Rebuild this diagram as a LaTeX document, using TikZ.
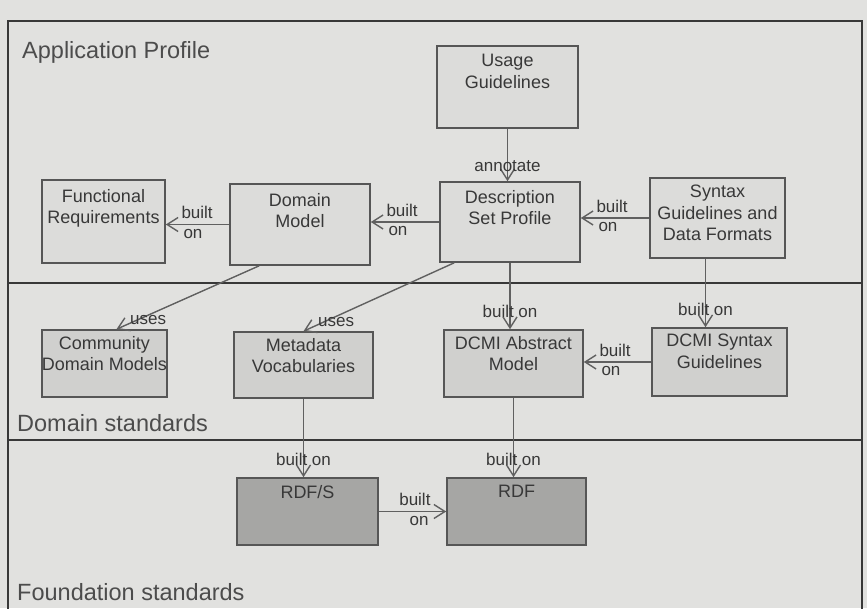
\documentclass[tikz,border=0pt]{standalone}
\usepackage{fontspec}
\setmainfont{Liberation Sans}
\usepackage{xcolor}
\usetikzlibrary{arrows.meta}

\definecolor{paper}{HTML}{E1E1DF}
\definecolor{boxtop}{HTML}{DCDCDA}
\definecolor{boxmid}{HTML}{D0D0CE}
\definecolor{boxlow}{HTML}{A6A6A4}
\definecolor{ink}{HTML}{383838}

\tikzset{
  stdbox/.style={draw=ink!85, line width=1.6pt, fill=boxtop, inner sep=0pt},
  midbox/.style={stdbox, fill=boxmid},
  lowbox/.style={stdbox, fill=boxlow},
  boxtext/.style={font=\fontsize{18}{21.5}\selectfont, text=ink, align=center, inner sep=0pt},
  conn/.style={draw=ink!80, line width=1.4pt, -{Straight Barb[length=11pt,width=14pt,line width=1.4pt]}},
  lbl/.style={font=\fontsize{17}{18}\selectfont, text=ink, inner sep=0pt},
  up/.style={lbl, at end, anchor=south west, xshift=15, yshift=5},
  dn/.style={lbl, at end, anchor=north west, xshift=17, yshift=-4},
  layer/.style={font=\fontsize{23.5}{26}\selectfont, text=ink!90, anchor=west, inner sep=0pt},
  sep/.style={draw=ink, line width=2.6pt}
}

\begin{document}
\begin{tikzpicture}[x=1pt,y=-1pt]
\useasboundingbox[fill=paper] (0,0) rectangle (867,608);

% layers
\draw[ink, line width=2.2pt] (8,640) -- (8,21) -- (862,21) -- (862,640);
\draw[sep] (8,283) -- (862,283);
\draw[sep] (8,440) -- (862,440);
\node[layer] (tapp) at (22,52) {Application Profile};
\node[layer] (tdom) at (17,423) {Domain standards};
\node[layer] (tfnd) at (17,592) {Foundation standards};

% application profile
\node[stdbox, minimum width=141, minimum height=82,
  label={[boxtext,anchor=north,yshift=-9]north:Usage\\Guidelines}] (ug) at (507.5,87) {};
\node[stdbox, minimum width=123, minimum height=83,
  label={[boxtext,anchor=north,yshift=-10]north:Functional\\Requirements}] (fr) at (103.5,221.5) {};
\node[stdbox, minimum width=140, minimum height=81,
  label={[boxtext,anchor=north,yshift=-10]north:Domain\\Model}] (dm) at (300,224.5) {};
\node[stdbox, minimum width=140, minimum height=80,
  label={[boxtext,anchor=north,yshift=-9]north:Description\\Set Profile}] (dsp) at (510,222) {};
\node[stdbox, minimum width=135, minimum height=80,
  label={[boxtext,anchor=north,yshift=-8]north:Syntax\\Guidelines and\\Data Formats}] (syn) at (717.5,218) {};

% domain standards
\node[midbox, minimum width=125, minimum height=67,
  label={[boxtext,anchor=north,yshift=-7]north:Community\\Domain Models}] (cdm) at (104.5,363.5) {};
\node[midbox, minimum width=139, minimum height=66,
  label={[boxtext,anchor=north,yshift=-7]north:Metadata\\Vocabularies}] (mv) at (303.5,365) {};
\node[midbox, minimum width=139, minimum height=67,
  label={[boxtext,anchor=north,yshift=-7]north:DCMI Abstract\\Model}] (am) at (513.5,363.5) {};
\node[midbox, minimum width=135, minimum height=68,
  label={[boxtext,anchor=north,yshift=-7]north:DCMI Syntax\\Guidelines}] (dsg) at (719.5,362) {};

% foundation standards
\node[lowbox, minimum width=141, minimum height=67,
  label={[boxtext,anchor=north,yshift=-8]north:RDF/S}] (rdfs) at (307.5,511.5) {};
\node[lowbox, minimum width=139, minimum height=67,
  label={[boxtext,anchor=north,yshift=-8]north:RDF}] (rdf) at (516.5,511.5) {};

% connectors
\draw[conn] (ug.south) -- (ug.south |- dsp.north)
  node[lbl, at end, anchor=south, yshift=9] {annotate};
\draw[conn] (dm.west) -- (dm.west -| fr.east)
  node[up] {built} node[dn] {on};
\draw[conn] (dsp.west) -- (dsp.west -| dm.east)
  node[up] {built} node[dn] {on};
\draw[conn] (syn.west) -- (syn.west -| dsp.east)
  node[up] {built} node[dn] {on};
\draw[conn] ([xshift=30]dm.south west) -- ([xshift=12]cdm.north)
  node[lbl, at end, anchor=south west, xshift=13, yshift=4] {uses};
\draw[conn] ([xshift=15]dsp.south west) -- (mv.north)
  node[lbl, at end, anchor=south west, xshift=14, yshift=4] {uses};
\draw[conn] (dsp.south) -- (dsp.south |- am.north)
  node[lbl, at end, anchor=south, yshift=11] {built on};
\draw[conn] ([xshift=-12]syn.south) -- ([xshift=-12]syn.south |- dsg.north)
  node[lbl, at end, anchor=south, yshift=11] {built on};
\draw[conn] (dsg.west) -- (dsg.west -| am.east)
  node[up] {built} node[dn] {on};
\draw[conn] (mv.south) -- (mv.south |- rdfs.north)
  node[lbl, at end, anchor=south, yshift=11] {built on};
\draw[conn] (am.south) -- (am.south |- rdf.north)
  node[lbl, at end, anchor=south, yshift=11] {built on};
\draw[conn] (rdfs.east) -- (rdfs.east -| rdf.west)
  node[up, anchor=south east, xshift=-30] {built}
  node[dn, anchor=north east, xshift=-34] {on};
\end{tikzpicture}
\end{document}
